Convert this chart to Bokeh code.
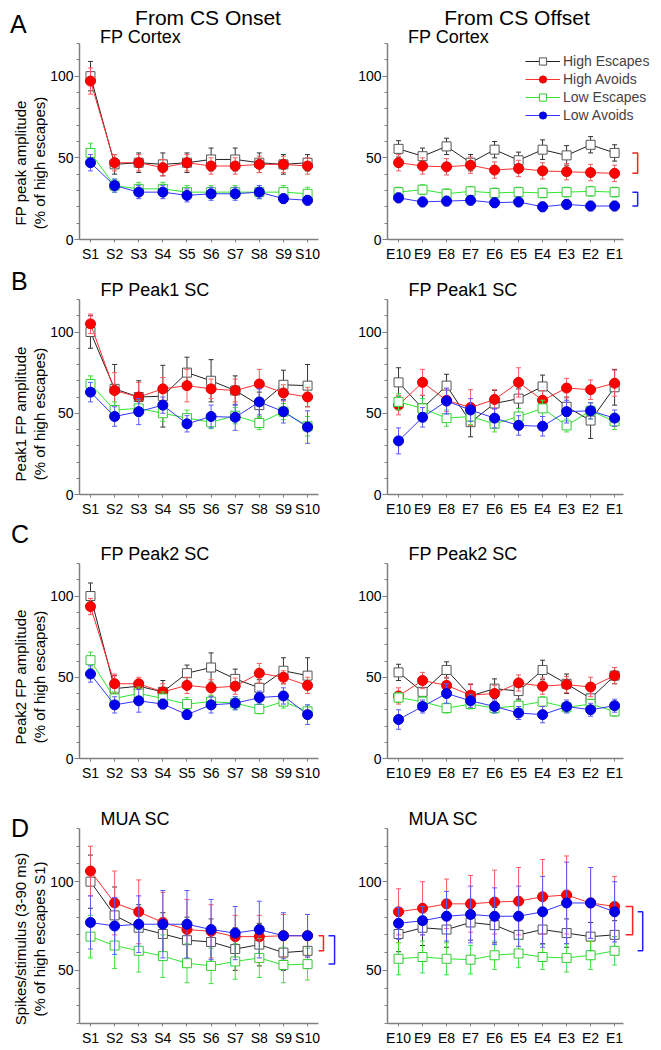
from bokeh.plotting import figure
from bokeh.models import Legend, LegendItem, FixedTicker, SingleIntervalTicker, Range1d, Title, Div
from bokeh.layouts import column, row
from bokeh.embed import file_html
from bokeh.resources import INLINE

FONT = "Liberation Sans"

# ---------------- categories / names ----------------
onset_labels = ["S1", "S2", "S3", "S4", "S5", "S6", "S7", "S8", "S9", "S10"]
offset_labels = ["E10", "E9", "E8", "E7", "E6", "E5", "E4", "E3", "E2", "E1"]
series_names = ["High Escapes", "High Avoids", "Low Escapes", "Low Avoids"]

# ---------------- A: FP Cortex ----------------
a_on_he = [100, 46, 47, 46, 47, 49, 49, 47, 46, 47]
a_on_he_err = [9, 6, 6, 7, 6, 7, 7, 6, 6, 5]
a_on_ha = [97, 47, 47, 44, 47, 45, 45, 46, 46, 45]
a_on_ha_err = [8, 5, 5, 5, 5, 5, 5, 5, 5, 5]
a_on_le = [53, 33, 31, 31, 29, 29, 29, 29, 29, 28]
a_on_le_err = [6, 4, 4, 4, 4, 4, 4, 4, 4, 4]
a_on_la = [47, 33, 29, 29, 27, 28, 28, 29, 25, 24]
a_on_la_err = [5, 4, 4, 4, 4, 4, 4, 4, 3, 3]

a_off_he = [55.5, 51, 57, 47, 55, 48.5, 55, 51.5, 58, 53]
a_off_he_err = [5, 5, 5, 5, 5, 5, 6, 6, 5, 5]
a_off_ha = [47, 45, 44.5, 45.5, 42.5, 43.5, 42, 41.5, 41, 40.5]
a_off_ha_err = [5, 5, 5, 5, 5, 5, 5, 5, 5, 5]
a_off_le = [29, 30.5, 28, 29.5, 28.5, 29, 28.5, 29, 29.5, 29]
a_off_le_err = [3, 3, 3, 3, 3, 3, 3, 3, 3, 3]
a_off_la = [25.5, 23, 23.5, 24, 22.5, 23, 20, 21.5, 20.5, 20.5]
a_off_la_err = [3, 3, 3, 3, 3, 3, 3, 3, 3, 3]

# ---------------- B: FP Peak1 SC ----------------
b_on_he = [100, 65, 60, 60.5, 75, 70, 64, 55, 67.5, 67]
b_on_he_err = [10, 15, 10, 19, 9.5, 13, 9, 8, 9, 13]
b_on_ha = [105, 64, 60, 65, 67, 65, 64, 68, 62.5, 60]
b_on_ha_err = [6, 11, 9, 7, 10, 6, 7, 9, 5, 6]
b_on_le = [68, 52, 53, 50, 47, 44.5, 48.5, 44, 51, 42]
b_on_le_err = [5, 5, 5, 5, 5, 4, 5, 4, 5, 6]
b_on_la = [63, 48, 51, 55, 43.5, 48, 47.5, 57, 51, 41.5]
b_on_la_err = [6, 6, 8, 5, 5, 7, 8, 8, 7, 10]

b_off_he = [69, 53, 67, 44.5, 56, 59, 66.5, 54, 45.5, 66]
b_off_he_err = [9, 8, 7, 9, 8, 6, 7, 6, 11, 11]
b_off_ha = [55, 69, 58, 53.5, 58.5, 69, 58, 65.5, 64.5, 68.5]
b_off_ha_err = [6, 8, 7, 11, 6, 9, 6, 6, 6, 8]
b_off_le = [57, 53, 47, 48, 43.5, 48, 53, 42.5, 51.5, 45]
b_off_le_err = [5, 6, 5, 5, 5, 5, 5, 4, 5, 5]
b_off_la = [33, 47.5, 57.5, 52, 47, 42.5, 42, 51, 51.5, 47]
b_off_la_err = [8, 6, 8, 7, 6, 6, 6, 7, 5, 5]

# ---------------- C: FP Peak2 SC ----------------
c_on_he = [100, 43, 44.5, 41, 52.5, 56, 49, 43.5, 54, 51]
c_on_he_err = [8, 8, 4, 7, 5, 9, 6, 5, 8, 11]
c_on_ha = [93.5, 46, 46, 41, 45, 43.5, 44.5, 52.5, 50, 45]
c_on_ha_err = [5, 6, 4, 5, 5, 5, 5, 6, 4, 5]
c_on_le = [60.5, 37, 40, 37, 33.5, 35, 34, 30.5, 35, 29]
c_on_le_err = [5, 4, 4, 4, 4, 4, 4, 3, 4, 4]
c_on_la = [52, 33, 35.5, 33.5, 27, 33, 34, 37.5, 38.5, 27]
c_on_la_err = [5, 5, 7, 3, 3, 5, 4, 4, 5, 6]

c_off_he = [53, 41, 54.5, 38.5, 43, 41.5, 54.5, 46, 37, 51]
c_off_he_err = [5, 5, 5, 7, 6, 5, 6, 6, 6, 5]
c_off_ha = [38.5, 48, 45, 39, 40, 46.5, 44.5, 45.5, 44, 51]
c_off_ha_err = [5, 5, 5, 7, 5, 5, 5, 5, 6, 5]
c_off_le = [37.5, 35, 31, 33.5, 31, 32.5, 35, 31.5, 33.5, 29]
c_off_le_err = [3, 3, 3, 3, 3, 3, 3, 3, 3, 3]
c_off_la = [24, 32, 40, 35.5, 32, 28, 27, 32, 30, 32.5]
c_off_la_err = [6, 4, 6, 4, 4, 4, 5, 4, 4, 4]

# ---------------- D: MUA SC ----------------
d_on_he = [100, 81, 74, 70.5, 67, 66, 62, 64.5, 60, 61]
d_on_he_err = [15, 16, 13, 12, 13, 13, 12, 12, 10, 10]
d_on_ha = [106, 88, 83, 77, 73, 72, 69, 69, 69.5, 69.5]
d_on_ha_err = [14, 18, 18, 17, 17, 15, 12, 12, 12, 12]
d_on_le = [69, 64, 61, 58, 54, 52.5, 55, 57, 53, 53.5]
d_on_le_err = [12, 13, 12, 12, 11, 10, 10, 11, 10, 9]
d_on_la = [77, 75, 76, 76, 76, 73, 71, 73, 69.5, 69.5]
d_on_la_err = [15, 16, 16, 19, 19, 17, 15, 16, 13, 12]

d_off_he = [70.5, 74, 73, 77, 75.5, 70, 73, 71, 69, 70]
d_off_he_err = [10, 10, 10, 10, 10, 10, 8, 8, 8, 8]
d_off_ha = [83, 85, 87.5, 87.5, 88.5, 89, 91.5, 92.5, 88, 86]
d_off_ha_err = [13, 15, 14, 16, 18, 19, 21, 22, 20, 17]
d_off_le = [56.5, 57.5, 56.5, 56, 58.5, 59.5, 57.5, 57, 58.5, 61]
d_off_le_err = [9, 9, 9, 8, 8, 8, 7, 8, 8, 8]
d_off_la = [76.5, 78, 80.5, 81.5, 80.5, 80.5, 83, 88, 88, 83]
d_off_la_err = [9, 8, 14, 16, 16, 17, 20, 23, 20, 17]

# ---------------- texts ----------------
col_headers = ["From CS Onset", "From CS Offset"]
row_letters = ["A", "B", "C", "D"]
row_titles = ["FP Cortex", "FP Peak1 SC", "FP Peak2 SC", "MUA SC"]
row_ylabels = [
    ["FP peak amplitude", "(% of high escapes)"],
    ["Peak1 FP amplitude", "(% of high escapes)"],
    ["Peak2 FP amplitude", "(% of high escapes)"],
    ["Spikes/stimulus (3-90 ms)", "(% of high escapes S1)"],
]

# ---------------- styles ----------------
STYLE = {
    "High Escapes": dict(marker="square", size=9, fill="white", mline="#555555", line="#222222", err="#333333"),
    "High Avoids": dict(marker="circle", size=10, fill="#ff0000", mline="#e00000", line="#ff3030", err="#ff5a5a"),
    "Low Escapes": dict(marker="square", size=9, fill="white", mline="#33cc33", line="#2ee82e", err="#44e044"),
    "Low Avoids": dict(marker="circle", size=10, fill="#0000ee", mline="#0000cc", line="#3535ff", err="#5a5aff"),
}
RED_BR = "#ff2020"
BLUE_BR = "#2020ff"
AXIS_GRAY = "#808080"

TXT_W = 47          # left text column (letters + y-axis labels)
STRIP_H = 43        # top strip (headers, letter A, row-A panel titles)
COLS = [
    dict(width=289, mbl=32, xr=(0.544, 11.2), xb=(0.544, 10.46)),
    dict(width=317, mbl=51, xr=(0.54, 11.62), xb=(0.54, 10.375)),
]
# letter_top / ylab_c are measured from the top of each row block
ROWS = [
    dict(height=223, mbt=0, mbb=27, yr=(0, 120), letter_top=None, ylab_c=120),
    dict(height=254, mbt=33, mbb=26, yr=(0, 120), letter_top=3, ylab_c=148),
    dict(height=275, mbt=43, mbb=37, yr=(0, 120), letter_top=2, ylab_c=157),
    dict(height=253, mbt=33, mbb=25, yr=(20, 130), letter_top=21, ylab_c=144),
]

panel_data = {
    (0, 0): dict(zip(series_names, [(a_on_he, a_on_he_err), (a_on_ha, a_on_ha_err), (a_on_le, a_on_le_err), (a_on_la, a_on_la_err)])),
    (0, 1): dict(zip(series_names, [(a_off_he, a_off_he_err), (a_off_ha, a_off_ha_err), (a_off_le, a_off_le_err), (a_off_la, a_off_la_err)])),
    (1, 0): dict(zip(series_names, [(b_on_he, b_on_he_err), (b_on_ha, b_on_ha_err), (b_on_le, b_on_le_err), (b_on_la, b_on_la_err)])),
    (1, 1): dict(zip(series_names, [(b_off_he, b_off_he_err), (b_off_ha, b_off_ha_err), (b_off_le, b_off_le_err), (b_off_la, b_off_la_err)])),
    (2, 0): dict(zip(series_names, [(c_on_he, c_on_he_err), (c_on_ha, c_on_ha_err), (c_on_le, c_on_le_err), (c_on_la, c_on_la_err)])),
    (2, 1): dict(zip(series_names, [(c_off_he, c_off_he_err), (c_off_ha, c_off_ha_err), (c_off_le, c_off_le_err), (c_off_la, c_off_la_err)])),
    (3, 0): dict(zip(series_names, [(d_on_he, d_on_he_err), (d_on_ha, d_on_ha_err), (d_on_le, d_on_le_err), (d_on_la, d_on_la_err)])),
    (3, 1): dict(zip(series_names, [(d_off_he, d_off_he_err), (d_off_ha, d_off_ha_err), (d_off_le, d_off_le_err), (d_off_la, d_off_la_err)])),
}

# significance brackets: (series a, series b, colour, x of vertical bar, tick length) in x-axis units
brackets = {
    (0, 1): [("High Escapes", "High Avoids", RED_BR, 10.96, 0.22), ("Low Escapes", "Low Avoids", BLUE_BR, 10.96, 0.22)],
    (3, 0): [("High Escapes", "High Avoids", RED_BR, 10.66, 0.2), ("Low Escapes", "Low Avoids", BLUE_BR, 11.12, 0.25)],
    (3, 1): [("High Escapes", "High Avoids", RED_BR, 10.75, 0.29), ("Low Escapes", "Low Avoids", BLUE_BR, 11.17, 0.21)],
}


def span(text, x, y, size, mode="left"):
    """absolutely positioned text; mode: left (x=left,y=top), center (x=center,y=top), vert (x,y = centre)"""
    base = (f"position:absolute;white-space:nowrap;font-family:'{FONT}';font-size:{size}px;"
            f"line-height:1;color:#000;margin:0;padding:0;left:{x}px;top:{y}px;")
    if mode == "center":
        base += "transform:translate(-50%,0);"
    elif mode == "vert":
        base += "transform:translate(-50%,-50%) rotate(-90deg);"
    return f'<span style="{base}">{text}</span>'


def text_div(w, h, spans):
    html = f'<div style="position:relative;width:{w}px;height:{h}px;overflow:visible;">{"".join(spans)}</div>'
    return Div(text=html, width=w, height=h, margin=(0, 0, 0, 0))


def make_panel(r, c):
    C = COLS[c]
    R = ROWS[r]
    cats = onset_labels if c == 0 else offset_labels
    data = panel_data[(r, c)]
    p = figure(width=C["width"], height=R["height"],
               x_range=Range1d(*C["xr"]), y_range=Range1d(*R["yr"]),
               output_backend="svg", toolbar_location=None,
               min_border_left=C["mbl"], min_border_right=0,
               min_border_top=R["mbt"], min_border_bottom=R["mbb"])
    p.xgrid.visible = False
    p.ygrid.visible = False
    p.outline_line_color = None

    xs = list(range(1, len(cats) + 1))
    rends = {}
    for name in series_names:
        mean, err = data[name]
        st = STYLE[name]
        lo = [m - e for m, e in zip(mean, err)]
        hi = [m + e for m, e in zip(mean, err)]
        p.segment(x0=xs, y0=lo, x1=xs, y1=hi, line_color=st["err"], line_width=1)
        p.scatter(x=xs + xs, y=lo + hi, marker="dash", size=5, line_color=st["err"], line_width=1)
        lr = p.line(xs, mean, line_color=st["line"], line_width=1)
        sr = p.scatter(xs, mean, marker=st["marker"], size=st["size"], fill_color=st["fill"],
                       line_color=st["mline"], line_width=1)
        rends[name] = (lr, sr)

    for sa, sb, col, xv, w in brackets.get((r, c), []):
        ya = data[sa][0][-1]
        yb = data[sb][0][-1]
        p.line([xv - w, xv, xv, xv - w], [ya, ya, yb, yb], line_color=col, line_width=1.5)

    # axes
    p.xaxis.ticker = FixedTicker(ticks=xs, minor_ticks=[])
    p.xaxis.major_label_overrides = {x: lab for x, lab in zip(xs, cats)}
    p.xaxis.bounds = C["xb"]
    p.yaxis.ticker = SingleIntervalTicker(interval=50, num_minor_ticks=5)
    for ax in (p.xaxis[0], p.yaxis[0]):
        ax.axis_line_color = AXIS_GRAY
        ax.axis_line_width = 1.5
        ax.major_tick_line_color = AXIS_GRAY
        ax.minor_tick_line_color = AXIS_GRAY
        ax.major_tick_in = 0
        ax.minor_tick_in = 0
        ax.major_label_text_font = FONT
        ax.major_label_text_font_size = "14px"
        ax.major_label_text_color = "black"
    p.xaxis.major_tick_out = 3
    p.xaxis.major_label_standoff = 3
    p.yaxis.major_tick_out = 5
    p.yaxis.minor_tick_out = 3
    p.yaxis.major_label_standoff = 1

    if r > 0:
        p.add_layout(Title(text=row_titles[r], align="left", offset=21, standoff=0,
                           text_font=FONT, text_font_size="18px", text_font_style="normal",
                           text_color="black"), "above")

    if (r, c) == (0, 1):
        items = [LegendItem(label=n, renderers=list(rends[n])) for n in series_names]
        leg = Legend(items=items, location=(138, 115), border_line_color=None,
                     background_fill_alpha=0, padding=0, margin=0, spacing=0,
                     label_height=18, glyph_height=18, glyph_width=35, label_standoff=3,
                     label_text_font=FONT, label_text_font_size="14px")
        p.add_layout(leg)
    return p


# top strip: letter A, column headers and the row-A panel titles (top = baseline - 0.85*size)
strip_w = TXT_W + COLS[0]["width"] + COLS[1]["width"]
strip = text_div(strip_w, STRIP_H, [
    span(row_letters[0], 10, 12, 25),
    span(col_headers[0], 208, 7, 21, "center"),
    span(col_headers[1], 517, 7, 21, "center"),
    span(row_titles[0], 100, 28, 18),
    span(row_titles[0], 408, 28, 18),
])

blocks = [strip]
for r in range(4):
    R = ROWS[r]
    spans = []
    if R["letter_top"] is not None:
        spans.append(span(row_letters[r], 11, R["letter_top"], 25))
    l1, l2 = row_ylabels[r]
    spans.append(span(l1, 20, R["ylab_c"], 15, "vert"))
    spans.append(span(l2, 39, R["ylab_c"], 15, "vert"))
    blocks.append(row(text_div(TXT_W, R["height"], spans), make_panel(r, 0), make_panel(r, 1)))

layout = column(*blocks)

open("out.html", "w").write(file_html(layout, INLINE))
